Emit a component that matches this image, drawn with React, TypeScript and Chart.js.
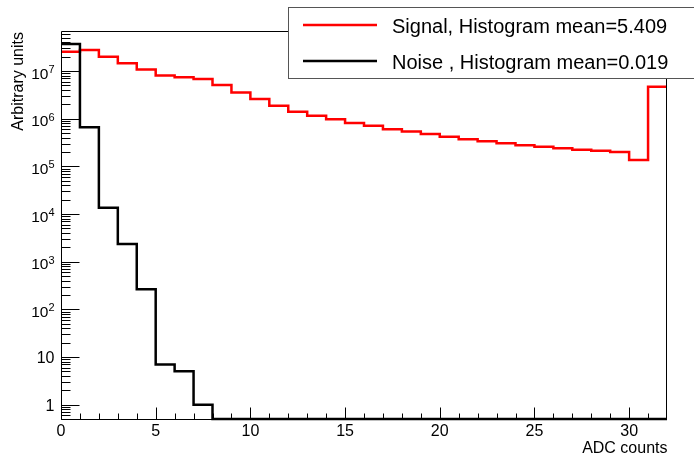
import React, { useEffect, useRef } from "react";
import { Chart, registerables } from "chart.js";

Chart.register(...registerables);

// ---- data ----
const binLowEdges = [0, 1, 2, 3, 4, 5, 6, 7, 8, 9, 10, 11, 12, 13, 14, 15, 16, 17, 18, 19, 20, 21, 22, 23, 24, 25, 26, 27, 28, 29, 30, 31];
const X_MIN = 0;
const X_MAX = 32;

const signalCounts = [
  2.54e7, 2.76e7, 2.0e7, 1.45e7, 1.08e7, 8.1e6, 7.4e6, 6.8e6, 5.1e6, 3.57e6,
  2.59e6, 1.87e6, 1.4e6, 1.16e6, 9.7e5, 8.1e5, 7.1e5, 6.0e5, 5.4e5, 4.8e5,
  4.2e5, 3.7e5, 3.36e5, 3.05e5, 2.77e5, 2.59e5, 2.39e5, 2.24e5, 2.13e5, 2.0e5,
  1.36e5, 4.7e6,
];
const noiseCounts = [
  3.68e7, 6.6e5, 1.36e4, 2360, 265, 7, 5, 1, 0, 0,
  0, 0, 0, 0, 0, 0, 0, 0, 0, 0,
  0, 0, 0, 0, 0, 0, 0, 0, 0, 0,
  0, 0,
];

const seriesLabels = ["Signal, Histogram mean=5.409", "Noise , Histogram mean=0.019"];
const seriesColors = ["#ff0000", "#000000"];

const xMajorTickLabels = [0, 5, 10, 15, 20, 25, 30];
const yDecadeExponents = [0, 1, 2, 3, 4, 5, 6, 7];
const Y_MIN = 0.5;
const Y_MAX = 6.6e7;

const X_TITLE = "ADC counts";
const Y_TITLE = "Arbitrary units";

const FONT = '"Liberation Sans", Arial, Helvetica, sans-serif';

function toSteps(counts: number[]) {
  const pts = counts.map((v, i) => ({ x: binLowEdges[i], y: v > 0 ? v : Y_MIN }));
  pts.push({ x: X_MAX, y: pts[pts.length - 1].y });
  return pts;
}

const rootAxes = {
  id: "rootAxes",
  afterDatasetsDraw(chart: any) {
    const { ctx, chartArea: a, scales } = chart;
    const xs = scales.x;
    const ys = scales.y;
    const L = Math.round(a.left) + 0.5;
    const R = Math.round(a.right) - 0.5;
    const T = Math.round(a.top) - 0.5;
    const B = Math.round(a.bottom) + 0.5;
    ctx.save();
    ctx.strokeStyle = "#000";
    ctx.lineWidth = 1;
    // frame
    ctx.beginPath();
    ctx.moveTo(L, T);
    ctx.lineTo(R, T);
    ctx.lineTo(R, B);
    ctx.lineTo(L, B);
    ctx.closePath();
    ctx.stroke();

    // y ticks (log)
    ctx.beginPath();
    const eLo = Math.floor(Math.log10(Y_MIN));
    const eHi = Math.ceil(Math.log10(Y_MAX));
    for (let e = eLo; e <= eHi; e++) {
      for (let m = 1; m <= 9; m++) {
        const v = m * Math.pow(10, e);
        if (v < Y_MIN * 0.999 || v > Y_MAX) continue;
        const y = Math.round(ys.getPixelForValue(v)) + 0.5;
        const len = m === 1 ? 18 : 9;
        ctx.moveTo(L, y);
        ctx.lineTo(L + len, y);
      }
    }
    // x ticks
    for (let i = X_MIN; i < X_MAX; i++) {
      const x = Math.round(xs.getPixelForValue(i)) + 0.5;
      const len = i % 5 === 0 ? 12 : 6;
      ctx.moveTo(x, B);
      ctx.lineTo(x, B - len);
    }
    ctx.stroke();

    // x labels
    ctx.fillStyle = "#000";
    ctx.font = `16px ${FONT}`;
    ctx.textAlign = "center";
    ctx.textBaseline = "alphabetic";
    xMajorTickLabels.forEach((v) => {
      ctx.fillText(String(v), xs.getPixelForValue(v), 436);
    });
    // x title
    ctx.textAlign = "right";
    ctx.fillText(X_TITLE, a.right + 0.5, 453);

    // y labels
    const rightEdge = 54.6;
    yDecadeExponents.forEach((e) => {
      const y = ys.getPixelForValue(Math.pow(10, e));
      if (e === 0 || e === 1) {
        ctx.font = `16px ${FONT}`;
        ctx.textAlign = "right";
        ctx.fillText(e === 0 ? "1" : "10", 54.5, y + 6);
      } else {
        ctx.font = `11px ${FONT}`;
        const sup = String(e);
        const sw = ctx.measureText(sup).width;
        ctx.textAlign = "left";
        ctx.fillText(sup, rightEdge - sw, y + 2);
        ctx.font = `15.5px ${FONT}`;
        ctx.textAlign = "right";
        ctx.fillText("10", rightEdge - sw, y + 7.5);
      }
    });

    // y title
    ctx.save();
    ctx.translate(23, a.top);
    ctx.rotate(-Math.PI / 2);
    ctx.font = `16px ${FONT}`;
    ctx.textAlign = "right";
    ctx.fillText(Y_TITLE, 0, 0);
    ctx.restore();

    ctx.restore();
  },
  afterDraw(chart: any) {
    const { ctx } = chart;
    ctx.save();
    // legend box
    const bx = 288.5, by = 7.5, bw = 420, bh = 71;
    ctx.fillStyle = "#fff";
    ctx.fillRect(bx, by, bw, bh);
    ctx.strokeStyle = "#555";
    ctx.lineWidth = 1;
    ctx.strokeRect(bx, by, bw, bh);
    const rows = [25, 61];
    const baselines = [33, 68.5];
    chart.data.datasets.forEach((ds: any, i: number) => {
      ctx.strokeStyle = ds.borderColor;
      ctx.lineWidth = 2.5;
      ctx.beginPath();
      ctx.moveTo(303, rows[i]);
      ctx.lineTo(377, rows[i]);
      ctx.stroke();
      ctx.fillStyle = "#000";
      ctx.font = `20px ${FONT}`;
      ctx.textAlign = "left";
      ctx.textBaseline = "alphabetic";
      ctx.fillText(ds.label, 392, baselines[i]);
    });
    ctx.restore();
  },
};

export default function App() {
  const ref = useRef<HTMLCanvasElement | null>(null);
  useEffect(() => {
    if (!ref.current) return;
    const chart = new Chart(ref.current, {
      type: "line",
      data: {
        datasets: [
          {
            label: seriesLabels[0],
            data: toSteps(signalCounts),
            borderColor: seriesColors[0],
            backgroundColor: seriesColors[0],
            borderWidth: 2.5,
            pointRadius: 0,
            stepped: "before",
            fill: false,
            clip: false as any,
            order: 1,
          },
          {
            label: seriesLabels[1],
            data: toSteps(noiseCounts),
            borderColor: seriesColors[1],
            backgroundColor: seriesColors[1],
            borderWidth: 2.5,
            pointRadius: 0,
            stepped: "before",
            fill: false,
            clip: false as any,
            order: 0,
          },
        ],
      },
      options: {
        responsive: false,
        animation: false,
        devicePixelRatio: 1,
        layout: { padding: { left: 61, top: 32, right: 27, bottom: 37 } },
        plugins: { legend: { display: false }, tooltip: { enabled: false } },
        events: [],
        scales: {
          x: { type: "linear", min: X_MIN, max: X_MAX, display: false },
          y: { type: "logarithmic", min: Y_MIN, max: Y_MAX, display: false },
        },
      },
      plugins: [rootAxes],
    });
    return () => chart.destroy();
  }, []);
  return (
    <div style={{ position: "fixed", left: 0, top: 0, width: 694, height: 456, background: "#fff" }}>
      <canvas ref={ref} width={694} height={456} style={{ display: "block" }} />
    </div>
  );
}
